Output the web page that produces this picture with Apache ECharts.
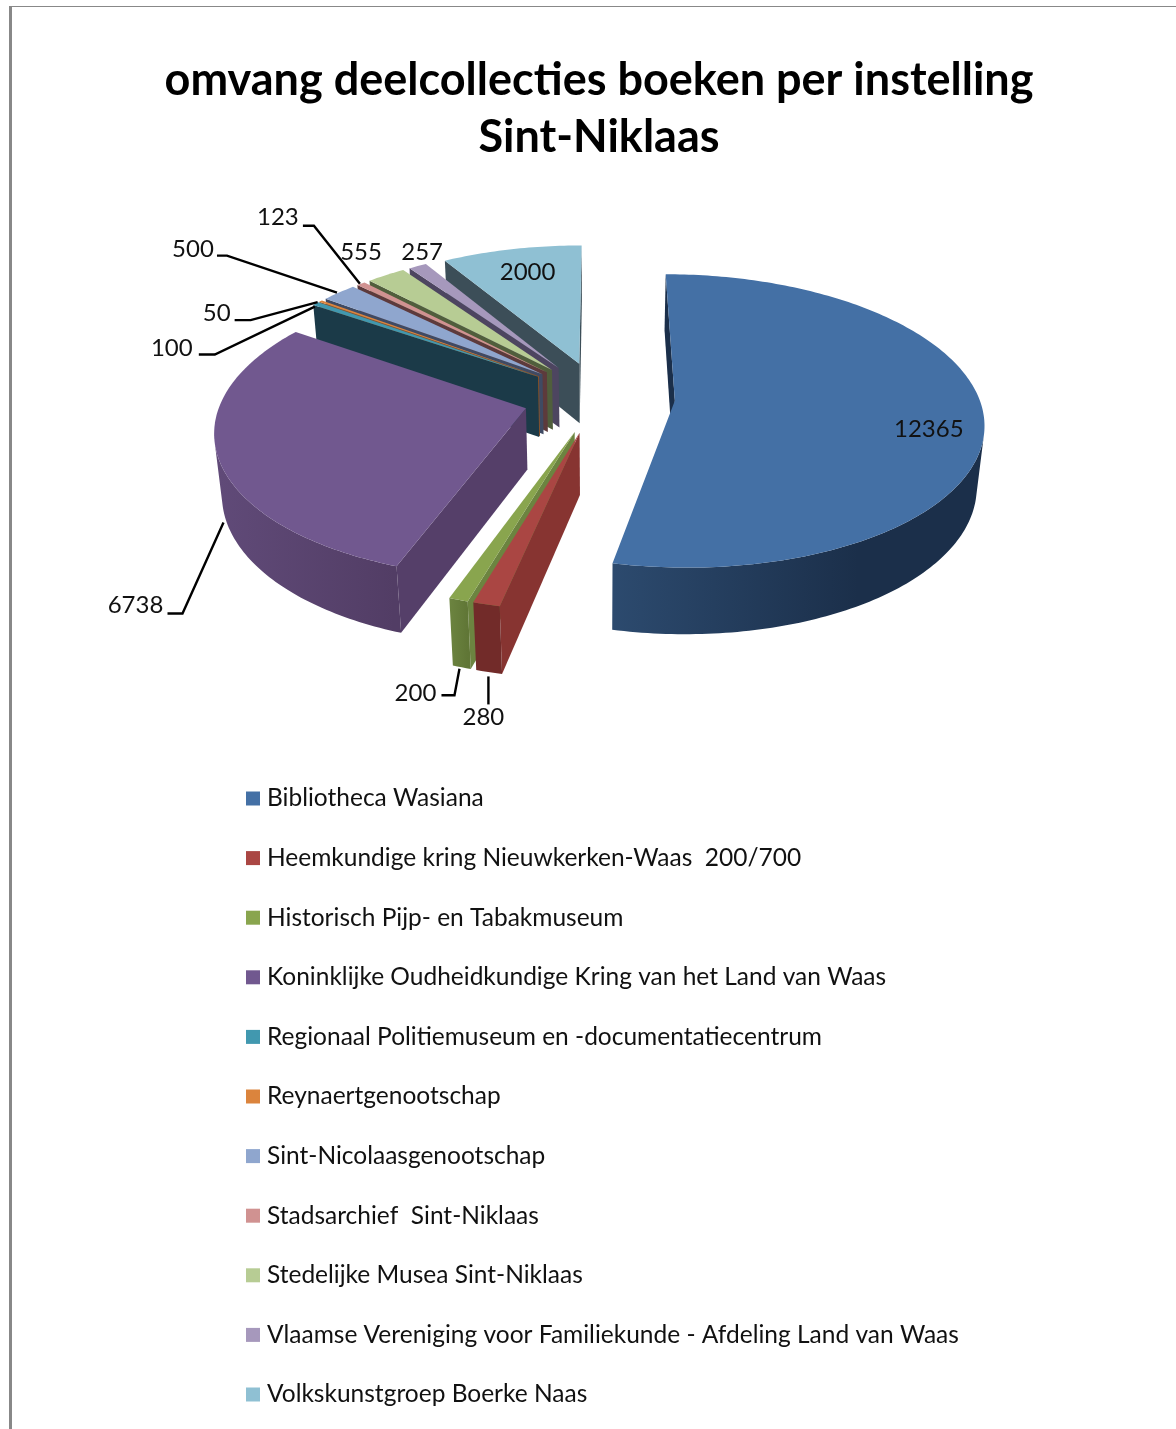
<!DOCTYPE html>
<html>
<head>
<meta charset="utf-8">
<title>omvang deelcollecties boeken per instelling Sint-Niklaas</title>
<style>
html,body{margin:0;padding:0;background:#fff}
#chart{width:1176px;height:1429px}
</style>
<script src="https://cdn.jsdelivr.net/npm/echarts@6/dist/echarts.min.js"></script>
</head>
<body>
<div id="chart"></div>
<script>
// ---- data ----
const chartTitle = 'omvang deelcollecties boeken per instelling\nSint-Niklaas';
const categories = [
  'Bibliotheca Wasiana',
  'Heemkundige kring Nieuwkerken-Waas  200/700',
  'Historisch Pijp- en Tabakmuseum',
  'Koninklijke Oudheidkundige Kring van het Land van Waas',
  'Regionaal Politiemuseum en -documentatiecentrum',
  'Reynaertgenootschap',
  'Sint-Nicolaasgenootschap',
  'Stadsarchief  Sint-Niklaas',
  'Stedelijke Musea Sint-Niklaas',
  'Vlaamse Vereniging voor Familiekunde - Afdeling Land van Waas',
  'Volkskunstgroep Boerke Naas'
];
const values = [12365, 280, 200, 6738, 100, 50, 500, 123, 555, 257, 2000];

// ---- styles ----
const topColors  = ['#4470A5','#AA4643','#89A54E','#71588F','#4198AF','#DB843D','#8FA6CE','#D09291','#B7CC94','#A698BC','#8FC0D3'];
const sideColors = ['#1B2F4A','#873431','#6C8440','#553F69','#1B3A48','#8A5226','#3F4A63','#5D3A3C','#505E3C','#4D4560','#3C4E58'];
// outer wall shading: [angle where dark, angle where light, dark, light]
const outerShades = [
  [150,192,'#1B2F4A','#2C4A6E'],
  [192,197,'#722B29','#722B29'],
  [196,200,'#607636','#6C8440'],
  [200,270,'#523D65','#604A78'],
  [0,1,'#1B3A48','#1B3A48'],[0,1,'#8A5226','#8A5226'],[0,1,'#3F4A63','#3F4A63'],
  [0,1,'#5D3A3C','#5D3A3C'],[0,1,'#505E3C','#505E3C'],[0,1,'#4D4560','#4D4560'],[0,1,'#3C4E58','#3C4E58']
];
// label placement relative to each slice's outer midpoint: [dx, dy]
const labelOffsets = [[-55,13],[-3,113],[-43,93],[-82,150],[-144,45],[-104,12],[-146,-43],[-83,-66],[-25,-23],[4.5,-14],[16,23]];
// leader lines relative to the same anchor
const leaderOffsets = [
  null,
  [[2,72],[2,100]],
  [[1,69],[-4,95.5],[-17,95.5]],
  [[6,67],[-35,158],[-50,158]],
  [[-1,3],[-101,51],[-117,51]],
  [[-3,1],[-70,19],[-86,19]],
  [[-2,0],[-112,-37],[-122,-37]],
  [[-1,0],[-47,-58],[-58,-58]],
  null, null, null
];

// ---- pie projection ----
const PIE = {x0:599, y0:397, k:0.00045, b:0.47, R:304, E:76, wall:62, m:0.02};
const total = values.reduce((a,v)=>a+v,0);
const rad = d=>d*Math.PI/180;
function project(X,Y,H){
  const s = 1/(1+PIE.k*Y+PIE.m*H);
  return [PIE.x0+X*s, PIE.y0+(-Y*PIE.b+PIE.wall*H)*s];
}
const slices = [];
values.reduce((start,v,i)=>{
  const span=v/total*360, mid=start+span/2;
  slices.push({a1:start,a2:start+span,mid,ox:PIE.E*Math.sin(rad(mid)),oy:PIE.E*Math.cos(rad(mid))});
  return start+span;
},0);
function rimPoint(sl,a,H){
  return project(sl.ox+PIE.R*Math.sin(rad(a)), sl.oy+PIE.R*Math.cos(rad(a)), H);
}
function tipPoint(sl,H){ return project(sl.ox,sl.oy,H); }
function area(p){
  let s=0; for(let i=0;i<p.length;i++){const q=p[(i+1)%p.length]; s+=p[i][0]*q[1]-q[0]*p[i][1];}
  return s/2;
}
function poly(points,fill){
  return {type:'polygon',shape:{points},style:{fill,stroke:null}};
}
function sliceItem(i){
  const sl=slices[i], kids=[];
  const n=Math.max(2,Math.ceil(sl.a2-sl.a1)), step=(sl.a2-sl.a1)/n;
  const rim=[]; for(let j=0;j<=n;j++) rim.push(sl.a1+j*step);
  // radial walls
  const w1=[tipPoint(sl,0),rimPoint(sl,sl.a1,0),rimPoint(sl,sl.a1,1),tipPoint(sl,1)];
  const w2=[rimPoint(sl,sl.a2,0),tipPoint(sl,0),tipPoint(sl,1),rimPoint(sl,sl.a2,1)];
  if(area(w1)<0) kids.push(poly(w1,sideColors[i]));
  if(area(w2)<0) kids.push(poly(w2,sideColors[i]));
  // outer wall: visible rim angles joined into one face with a global gradient
  const sh=outerShades[i];
  const visible=[];
  for(let j=0;j<n;j++){
    const q=[rimPoint(sl,rim[j],0),rimPoint(sl,rim[j+1],0),rimPoint(sl,rim[j+1],1),rimPoint(sl,rim[j],1)];
    if(area(q)<0){ if(!visible.length) visible.push(rim[j]); visible.push(rim[j+1]); }
  }
  if(visible.length){
    const up=visible.map(a=>rimPoint(sl,a,0));
    const down=visible.slice().reverse().map(a=>rimPoint(sl,a,1));
    const xa=rimPoint(sl,Math.min(Math.max(sh[0],sl.a1),sl.a2),0)[0];
    const xb=rimPoint(sl,Math.min(Math.max(sh[1],sl.a1),sl.a2),0)[0];
    const fill=Math.abs(xa-xb)<0.5?sh[3]:new echarts.graphic.LinearGradient(xa,0,xb,0,
      [{offset:0,color:sh[2]},{offset:1,color:sh[3]}],true);
    kids.push(poly(up.concat(down),fill));
  }
  // top face
  const top=[tipPoint(sl,0)]; rim.forEach(a=>top.push(rimPoint(sl,a,0)));
  kids.push(poly(top,topColors[i]));
  return {type:'group',children:kids};
}
function labelItem(i,value){
  const sl=slices[i], anchor=rimPoint(sl,sl.mid,0), kids=[];
  if(leaderOffsets[i]){
    kids.push({type:'polyline',
      shape:{points:leaderOffsets[i].map(o=>[anchor[0]+o[0],anchor[1]+o[1]])},
      style:{stroke:'#000',lineWidth:2.4,fill:null}});
  }
  kids.push({type:'text',style:{
    text:String(value),
    x:anchor[0]+labelOffsets[i][0],y:anchor[1]+labelOffsets[i][1],
    fontFamily:'Lato',fontSize:24,fill:'#111',align:'center',verticalAlign:'middle'}});
  return {type:'group',children:kids};
}
const depthOrder=slices.map((s,i)=>[Math.cos(rad(s.mid))*-1,i]).sort((a,b)=>a[0]-b[0]).map(p=>p[1]);

const series=categories.map((name,i)=>({
  type:'custom',name,coordinateSystem:'none',silent:true,clip:false,animation:false,
  z:2+depthOrder.indexOf(i),
  itemStyle:{color:topColors[i]},
  data:[[values[i]]],
  renderItem:()=>sliceItem(i)
}));
series.push({
  type:'custom',name:'labels',coordinateSystem:'none',silent:true,clip:false,animation:false,z:30,
  data:values.map((v,i)=>[i,v]),
  renderItem:(p,api)=>labelItem(api.value(0),api.value(1))
});

const chart=echarts.init(document.getElementById('chart'));
chart.setOption({
  animation:false,
  backgroundColor:'#fff',
  title:{
    text:chartTitle,left:594,top:47,textAlign:'center',
    textStyle:{fontFamily:'Lato',fontWeight:'bold',fontSize:45,lineHeight:57,color:'#000'}
  },
  legend:{
    data:categories,orient:'vertical',left:246,top:786,padding:0,
    icon:'rect',itemWidth:14,itemHeight:14,itemGap:34.6,selectedMode:false,
    textStyle:{fontFamily:'Lato',fontSize:24.5,lineHeight:24,color:'#111',padding:[0,0,0,2]}
  },
  graphic:[
    {type:'rect',silent:true,shape:{x:9,y:6,width:3,height:1423},style:{fill:'#888'}},
    {type:'rect',silent:true,shape:{x:9,y:6,width:1167,height:1},style:{fill:'#888'}}
  ],
  series
});
</script>
</body>
</html>
